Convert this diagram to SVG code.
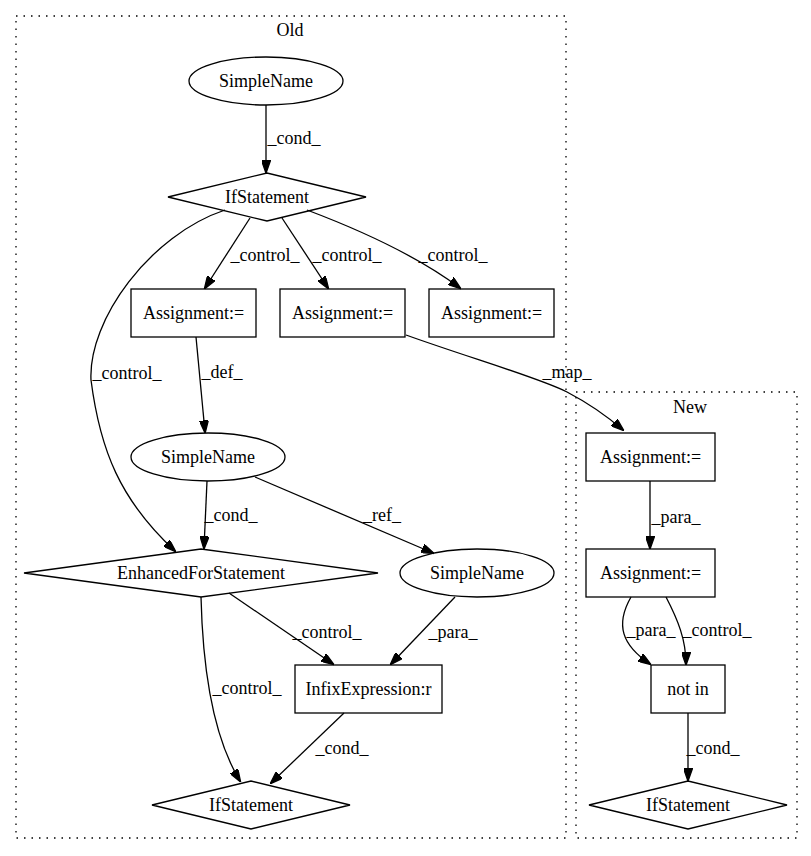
<svg xmlns="http://www.w3.org/2000/svg" width="811" height="856" viewBox="0 0 811 856">
<style>
text{font-family:"Liberation Serif","Times New Roman",serif;font-size:18px;fill:#000;text-anchor:middle}
.n{fill:none;stroke:#000;stroke-width:1.3}
.c{fill:none;stroke:#000;stroke-width:1.3;stroke-dasharray:1.5,6}
.e{fill:none;stroke:#000;stroke-width:1.3;marker-end:url(#ah)}
</style>
<defs>
<marker id="ah" viewBox="0 0 10 7" markerWidth="13" markerHeight="9" refX="9" refY="3.5" orient="auto" markerUnits="userSpaceOnUse">
<path d="M0,0 L10,3.5 L0,7 z" fill="#000" stroke="#000"/>
</marker>
</defs>
<rect width="811" height="856" fill="#fff"/>
<g id="cluster_old">
<rect class="c" x="16" y="16" width="550" height="822"/>
<text x="290" y="36">Old</text>
</g>
<g id="cluster_new">
<rect class="c" x="576" y="392" width="221" height="446"/>
<text x="690" y="413">New</text>
</g>
<g id="edges">
<path class="e" d="M266,105 L266,172"/><text x="294" y="144">_cond_</text>
<path class="e" d="M250,218 L205,288"/><text x="265" y="261">_control_</text>
<path class="e" d="M282,218 L328,288"/><text x="347" y="261">_control_</text>
<path class="e" d="M307,210 C360,230 420,258 460,288"/><text x="453" y="261">_control_</text>
<path class="e" d="M225,210 C150,235 88,320 91,380 C100,450 120,500 175,551"/><text x="127" y="379">_control_</text>
<path class="e" d="M196,337 L205,432"/><text x="222" y="378">_def_</text>
<path class="e" d="M207,481 L204,548"/><text x="231" y="521">_cond_</text>
<path class="e" d="M255,477 L433,553"/><text x="382" y="521">_ref_</text>
<path class="e" d="M229,593 L333,664"/><text x="327" y="638">_control_</text>
<path class="e" d="M455,597 L391,664"/><text x="453" y="638">_para_</text>
<path class="e" d="M201,597 C203,680 215,740 240,781"/><text x="247" y="694">_control_</text>
<path class="e" d="M344,713 L271,783"/><text x="342" y="754">_cond_</text>
<path class="e" d="M406,335 C470,358 540,378 567,392 C590,404 608,417 623,430"/><text x="567" y="378">_map_</text>
<path class="e" d="M650,481 L650,548"/><text x="676" y="523">_para_</text>
<path class="e" d="M631,597 C615,625 622,645 650,664"/><text x="651" y="636">_para_</text>
<path class="e" d="M666,597 C678,620 686,640 686,664"/><text x="717" y="636">_control_</text>
<path class="e" d="M688,713 L688,780"/><text x="713" y="754">_cond_</text>
</g>
<g id="n_sn1"><ellipse class="n" cx="266" cy="81" rx="77" ry="24"/><text x="266" y="87">SimpleName</text></g>
<g id="n_if1"><polygon class="n" points="168,197 267,173 366,197 267,221"/><text x="267" y="203">IfStatement</text></g>
<g id="n_a1"><rect class="n" x="131" y="289" width="125" height="48"/><text x="193.5" y="319">Assignment:=</text></g>
<g id="n_a2"><rect class="n" x="280" y="289" width="125" height="48"/><text x="342.5" y="319">Assignment:=</text></g>
<g id="n_a3"><rect class="n" x="429" y="289" width="125" height="48"/><text x="491.5" y="319">Assignment:=</text></g>
<g id="n_sn2"><ellipse class="n" cx="208" cy="457" rx="77" ry="24"/><text x="208" y="463">SimpleName</text></g>
<g id="n_efor"><polygon class="n" points="24,573 201,549 378,573 201,597"/><text x="201" y="579">EnhancedForStatement</text></g>
<g id="n_sn3"><ellipse class="n" cx="477" cy="573" rx="77" ry="24"/><text x="477" y="579">SimpleName</text></g>
<g id="n_infix"><rect class="n" x="295" y="665" width="147" height="48"/><text x="368.5" y="695">InfixExpression:r</text></g>
<g id="n_if2"><polygon class="n" points="152,805 251,781 350,805 251,829"/><text x="251" y="811">IfStatement</text></g>
<g id="n_na1"><rect class="n" x="586" y="433" width="129" height="48"/><text x="650.5" y="463">Assignment:=</text></g>
<g id="n_na2"><rect class="n" x="586" y="549" width="129" height="48"/><text x="650.5" y="579">Assignment:=</text></g>
<g id="n_notin"><rect class="n" x="651" y="665" width="74" height="48"/><text x="688" y="695">not in</text></g>
<g id="n_if3"><polygon class="n" points="589,805 688,781 787,805 688,829"/><text x="688" y="811">IfStatement</text></g>
</svg>
